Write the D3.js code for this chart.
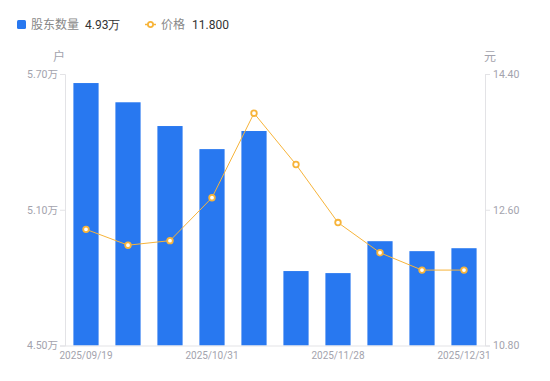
<!DOCTYPE html>
<html><head><meta charset="utf-8">
<script src="https://cdn.jsdelivr.net/npm/d3@7/dist/d3.min.js"></script>
<style>body{margin:0;background:#fff}svg{display:block;font-family:"Noto Sans CJK SC","Noto Sans",sans-serif}</style>
</head><body>
<script>
const dates = ["2025/09/19","2025/09/30","2025/10/20","2025/10/31","2025/11/10","2025/11/20","2025/11/28","2025/12/10","2025/12/19","2025/12/31"];
const holders = [5.66, 5.575, 5.47, 5.368, 5.448, 4.829, 4.82, 4.961, 4.917, 4.93];
const prices = [12.34, 12.13, 12.19, 12.76, 13.88, 13.20, 12.43, 12.03, 11.80, 11.80];
const leftTicks = [4.50, 5.10, 5.70];
const rightTicks = [10.80, 12.60, 14.40];
const shownDates = ["2025/09/19","2025/10/31","2025/11/28","2025/12/31"];

const W=550,H=381, L=65, R=485, T=74, B=345.5;
const svg=d3.select("body").append("svg").attr("width",W).attr("height",H);
const x=d3.scaleBand().domain(dates).range([L,R]).paddingInner(0.4).paddingOuter(0.2);
const xc=d=>x(d)+x.bandwidth()/2;
const yL=d3.scaleLinear().domain([4.5,5.7]).range([B,T]);
const yR=d3.scaleLinear().domain([10.8,14.4]).range([B,T]);
const axisCol="#e3e3e6", txtCol="#a3a3ad";

// bars
svg.append("g").selectAll("rect").data(holders).join("rect")
  .attr("x",(d,i)=>x(dates[i])).attr("width",x.bandwidth())
  .attr("y",d=>yL(d)).attr("height",d=>B-yL(d)).attr("fill","#2878f0");

// axes
const gl=svg.append("g").attr("transform",`translate(${L},0)`).call(d3.axisLeft(yL).tickValues(leftTicks).tickSize(5).tickPadding(2).tickFormat(d=>d3.format(".2f")(d)+"万"));
const gr=svg.append("g").attr("transform",`translate(${R},0)`).call(d3.axisRight(yR).tickValues(rightTicks).tickSize(5).tickPadding(3).tickFormat(d3.format(".2f")));
const gb=svg.append("g").attr("transform",`translate(0,${B})`).call(d3.axisBottom(x).tickValues(shownDates).tickSize(0).tickPadding(6));
[gl,gr,gb].forEach(g=>{
  g.selectAll("path,line").attr("stroke",axisCol);
  g.selectAll("text").attr("fill",txtCol).attr("font-size",10.5).attr("font-family","Roboto,'Noto Sans CJK SC',sans-serif");
});
gb.selectAll("text").attr("font-size",10);
gb.select(".domain").attr("d",`M${L},0.5H${R}`);
svg.append("text").attr("x",59).attr("y",61).attr("text-anchor","middle").attr("fill",txtCol).attr("font-size",12).text("户");
svg.append("text").attr("x",490).attr("y",61).attr("text-anchor","middle").attr("fill",txtCol).attr("font-size",12).text("元");

// line
const lineCol="#f7b43a";
svg.append("path").datum(prices).attr("fill","none").attr("stroke",lineCol).attr("stroke-width",1)
  .attr("d",d3.line().x((d,i)=>xc(dates[i])).y(d=>yR(d)));
svg.append("g").selectAll("circle").data(prices).join("circle")
  .attr("cx",(d,i)=>xc(dates[i])).attr("cy",d=>yR(d)).attr("r",2.8)
  .attr("fill","#fff").attr("stroke",lineCol).attr("stroke-width",1.8);

// legend
const lg=svg.append("g").attr("font-size",12);
lg.append("rect").attr("x",17).attr("y",20).attr("width",9).attr("height",9).attr("rx",1.5).attr("fill","#2878f0");
lg.append("text").attr("x",31).attr("y",29).attr("fill","#888").text("股东数量");
lg.append("text").attr("x",85).attr("y",29).attr("fill","#333").attr("font-family","Roboto,sans-serif").text("4.93万");
lg.append("line").attr("x1",145).attr("x2",156).attr("y1",24.5).attr("y2",24.5).attr("stroke",lineCol).attr("stroke-width",1.5);
lg.append("circle").attr("cx",150.5).attr("cy",24.5).attr("r",2.6).attr("fill","#fff").attr("stroke",lineCol).attr("stroke-width",1.8);
lg.append("text").attr("x",161).attr("y",29).attr("fill","#888").text("价格");
lg.append("text").attr("x",192).attr("y",29).attr("fill","#333").attr("font-family","Roboto,sans-serif").text("11.800");
</script>
</body></html>
